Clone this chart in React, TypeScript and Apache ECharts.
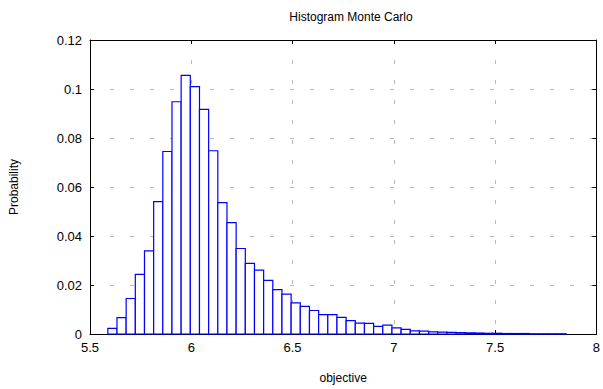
import React, { useEffect, useRef } from "react";
import * as echarts from "echarts";

const binStart = 5.588;
const binWidth = 0.04525;
const probabilities = [
  0.0023, 0.0067, 0.0145, 0.0243, 0.0339, 0.054, 0.0745, 0.0948, 0.1056, 0.101,
  0.0917, 0.0748, 0.0536, 0.0455, 0.0349, 0.0288, 0.0261, 0.0219, 0.0181, 0.0163,
  0.0127, 0.0113, 0.0096, 0.0079, 0.0079, 0.0068, 0.0055, 0.0044, 0.0043, 0.0031,
  0.0036, 0.0025, 0.0019, 0.0013, 0.0012, 0.0009, 0.0008, 0.0007, 0.0006, 0.0005,
  0.0004, 0.0003, 0.0003, 0.0002, 0.0002, 0.0002, 0.0001, 0.0001, 0.0001, 0.0001,
];
const xTicks = { min: 5.5, max: 8, interval: 0.5 };
const yTicks = { min: 0, max: 0.12, interval: 0.02 };
const titleText = "Histogram Monte Carlo";
const xLabel = "objective";
const yLabel = "Probability";

const FONT = "Liberation Sans, Arial, sans-serif";

export default function App() {
  const ref = useRef<HTMLDivElement>(null);
  useEffect(() => {
    if (!ref.current) return;
    const chart = echarts.init(ref.current, null, { renderer: "svg" });
    const data = probabilities.map((p, i) => [
      binStart + i * binWidth,
      binStart + (i + 1) * binWidth,
      p,
    ]);
    const gridDash = { color: "#b8b8b8", type: [4, 16] as any, width: 1 };
    chart.setOption({
      animation: false,
      backgroundColor: "#ffffff",
      textStyle: { fontFamily: FONT },
      title: {
        text: titleText,
        left: 346,
        top: 6,
        textAlign: "center",
        textStyle: { fontFamily: FONT, fontSize: 12, fontWeight: "normal", color: "#000" },
      },
      grid: { left: 90, right: 1, top: 40, bottom: 49, containLabel: false },
      xAxis: [
        {
          type: "value",
          min: xTicks.min,
          max: xTicks.max,
          interval: xTicks.interval,
          name: xLabel,
          nameLocation: "middle",
          nameGap: 38,
          nameTextStyle: { fontFamily: FONT, fontSize: 12, color: "#000" },
          axisLine: { show: true, onZero: false, lineStyle: { color: "#000", width: 1 } },
          axisTick: { show: true, inside: true, length: 4, lineStyle: { color: "#000" } },
          axisLabel: { fontFamily: FONT, fontSize: 13, color: "#000", margin: 7 },
          splitLine: { show: true, lineStyle: gridDash },
        },
        {
          type: "value",
          position: "top",
          min: xTicks.min,
          max: xTicks.max,
          interval: xTicks.interval,
          axisLine: { show: true, onZero: false, lineStyle: { color: "#000", width: 1 } },
          axisTick: { show: true, inside: true, length: 4, lineStyle: { color: "#000" } },
          axisLabel: { show: false },
          splitLine: { show: false },
        },
      ],
      yAxis: [
        {
          type: "value",
          min: yTicks.min,
          max: yTicks.max,
          interval: yTicks.interval,
          name: yLabel,
          nameLocation: "middle",
          nameGap: 70,
          nameRotate: 90,
          nameTextStyle: { fontFamily: FONT, fontSize: 12, color: "#000" },
          axisLine: { show: true, onZero: false, lineStyle: { color: "#000", width: 1 } },
          axisTick: { show: true, inside: true, length: 4, lineStyle: { color: "#000" } },
          axisLabel: { fontFamily: FONT, fontSize: 13, color: "#000", margin: 8 },
          splitLine: { show: true, lineStyle: gridDash },
        },
        {
          type: "value",
          position: "right",
          min: yTicks.min,
          max: yTicks.max,
          interval: yTicks.interval,
          axisLine: { show: true, onZero: false, lineStyle: { color: "#000", width: 1 } },
          axisTick: { show: true, inside: true, length: 4, lineStyle: { color: "#000" } },
          axisLabel: { show: false },
          splitLine: { show: false },
        },
      ],
      series: [
        {
          type: "custom",
          xAxisIndex: 0,
          yAxisIndex: 0,
          encode: { x: [0, 1], y: 2 },
          data,
          renderItem: (params: any, api: any) => {
            const x0 = api.value(0);
            const x1 = api.value(1);
            const v = api.value(2);
            const p0 = api.coord([x0, v]);
            const p1 = api.coord([x1, 0]);
            return {
              type: "rect",
              shape: { x: p0[0], y: p0[1], width: p1[0] - p0[0], height: p1[1] - p0[1] },
              style: { fill: "#ffffff", stroke: "#0000ff", lineWidth: 1.2 },
            };
          },
        },
      ],
    });
    return () => chart.dispose();
  }, []);
  return (
    <div
      ref={ref}
      style={{ position: "absolute", left: 0, top: 0, width: 603, height: 389 }}
    />
  );
}
